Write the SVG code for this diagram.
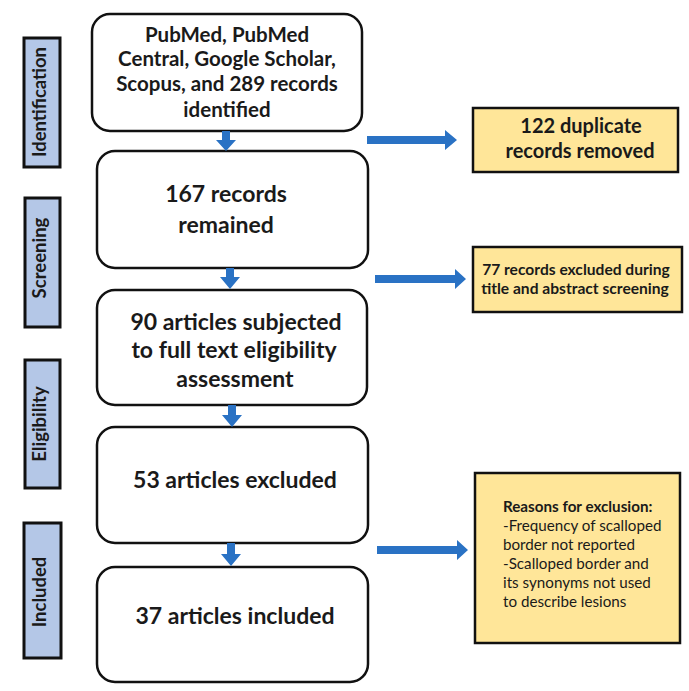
<svg xmlns="http://www.w3.org/2000/svg" width="689" height="691" viewBox="0 0 689 691">
<style>
.bg{fill:#ffffff}
.main{fill:#ffffff;stroke:#111111;stroke-width:2.5}
.side{fill:#b4c7e7;stroke:#111111;stroke-width:3}
.note{fill:#ffe699;stroke:#111111;stroke-width:2.5}
.arr{fill:#2a72c4}
.t{font-family:Lato,"Open Sans","Liberation Sans",sans-serif;fill:#1a1a1a;text-anchor:middle}
.b{font-weight:bold}
.s{font-family:Lato,"Open Sans","Liberation Sans",sans-serif;fill:#1a1a1a;font-size:18.5px;font-weight:bold;text-anchor:middle}
.l{font-family:Lato,"Open Sans","Liberation Sans",sans-serif;fill:#1a1a1a;font-size:15.2px}
</style>
<rect class="bg" x="0" y="0" width="689" height="691"/>

<g id="stage-identification">
<rect class="side" x="24" y="38" width="36" height="129"/>
<text class="s" transform="translate(46,102) rotate(-90)">Identification</text>
</g>
<g id="stage-screening">
<rect class="side" x="25" y="198" width="35" height="129"/>
<text class="s" transform="translate(46,258) rotate(-90)">Screening</text>
</g>
<g id="stage-eligibility">
<rect class="side" x="25" y="360" width="35" height="128"/>
<text class="s" transform="translate(46,424) rotate(-90)">Eligibility</text>
</g>
<g id="stage-included">
<rect class="side" x="24" y="523" width="37" height="135"/>
<text class="s" transform="translate(46,592) rotate(-90)">Included</text>
</g>

<g id="box-identified">
<rect class="main" x="92" y="14" width="270" height="117" rx="18"/>
<text class="t b" font-size="20.5"><tspan x="227" y="42">PubMed, PubMed</tspan><tspan x="227" y="66">Central, Google Scholar,</tspan><tspan x="227" y="91">Scopus, and 289 records</tspan><tspan x="227" y="117">identified</tspan></text>
</g>
<g id="box-remained">
<rect class="main" x="97" y="151" width="271" height="117" rx="18"/>
<text class="t b" font-size="23"><tspan x="226" y="202">167 records</tspan><tspan x="226" y="233">remained</tspan></text>
</g>
<g id="box-fulltext">
<rect class="main" x="97" y="290" width="270" height="115" rx="18"/>
<text class="t b" font-size="23"><tspan x="236" y="330">90 articles subjected</tspan><tspan x="234" y="358">to full text eligibility</tspan><tspan x="235" y="387">assessment</tspan></text>
</g>
<g id="box-excluded">
<rect class="main" x="97" y="427" width="271" height="116" rx="18"/>
<text class="t b" font-size="23" x="235" y="488">53 articles excluded</text>
</g>
<g id="box-included">
<rect class="main" x="97" y="567" width="271" height="115" rx="18"/>
<text class="t b" font-size="23" x="235" y="624">37 articles included</text>
</g>

<g id="note-duplicates">
<rect class="note" x="473" y="108" width="205" height="64"/>
<text class="t b" font-size="20"><tspan x="581" y="133">122 duplicate</tspan><tspan x="580" y="158">records removed</tspan></text>
</g>
<g id="note-screening">
<rect class="note" x="473" y="247" width="209" height="65"/>
<text class="t b" font-size="15.6"><tspan x="576" y="275">77 records excluded during</tspan><tspan x="575" y="294">title and abstract screening</tspan></text>
</g>
<g id="note-reasons">
<rect class="note" x="475" y="473" width="205" height="170"/>
<text class="l"><tspan x="503" y="512" font-weight="bold">Reasons for exclusion:</tspan><tspan x="503" y="531">-Frequency of scalloped</tspan><tspan x="503" y="550">border not reported</tspan><tspan x="503" y="569">-Scalloped border and</tspan><tspan x="503" y="588">its synonyms not used</tspan><tspan x="503" y="607">to describe lesions</tspan></text>
</g>

<g id="connectors">
<polygon class="arr" points="222,131 230,131 230,140 236,140 226,151 216,140 222,140"/>
<polygon class="arr" points="226,268 234,268 234,277 240,277 230,289 220,277 226,277"/>
<polygon class="arr" points="228,405 236,405 236,415 242,415 232,427 222,415 228,415"/>
<polygon class="arr" points="227,543 235,543 235,554 241,554 231,566 221,554 227,554"/>
<polygon class="arr" points="367,136 445,136 445,130 457,140 445,150 445,144 367,144"/>
<polygon class="arr" points="375,275 455,275 455,269 466,279 455,289 455,283 375,283"/>
<polygon class="arr" points="377,546 457,546 457,540 468,550 457,560 457,554 377,554"/>
</g>
</svg>
